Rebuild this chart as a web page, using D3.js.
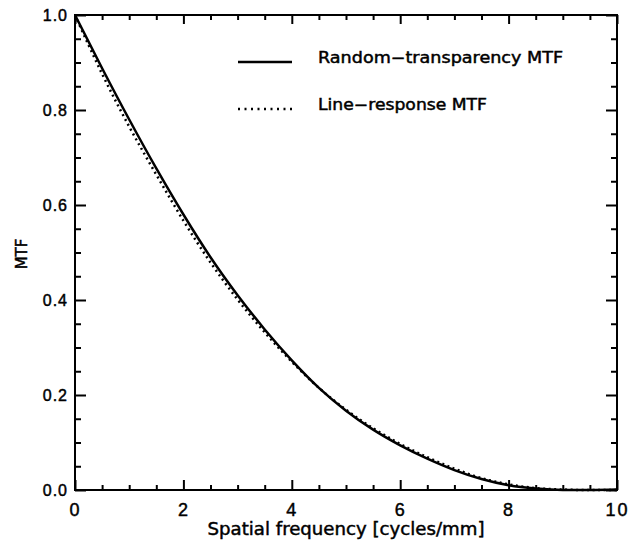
<!DOCTYPE html>
<html>
<head>
<meta charset="utf-8">
<script src="https://cdn.jsdelivr.net/npm/d3@7"></script>
<style>
  body { margin: 0; background: #fff; }
  svg { display: block; font-family: "DejaVu Sans", sans-serif; }
  text { fill: #000; stroke: #000; stroke-width: 0.45px; }
</style>
</head>
<body>
<div id="root"></div>
<script>
const WIDTH = 632;
const HEIGHT = 543;
const MARGIN = {top: 15, right: 15, bottom: 53, left: 75};

// spatial frequency samples (cycles/mm)
const freq = [0, 0.5, 1, 1.5, 2, 2.5, 3, 3.5, 4, 4.5, 5, 5.5, 6, 6.5, 7, 7.5, 8, 8.5, 9, 9.5, 10];
// MTF
const randomMTF = [1.0, 0.888, 0.780, 0.677, 0.580, 0.490, 0.410, 0.338, 0.273, 0.215, 0.167, 0.127, 0.094, 0.066, 0.042, 0.023, 0.010, 0.003, 0.0, 0.0, 0.001];
const lineMTF   = [1.0, 0.876, 0.765, 0.664, 0.567, 0.479, 0.401, 0.332, 0.270, 0.215, 0.169, 0.130, 0.097, 0.069, 0.045, 0.025, 0.012, 0.004, 0.001, 0.0, 0.0];

const xMajor = [0, 2, 4, 6, 8, 10];
const yMajor = [0.0, 0.2, 0.4, 0.6, 0.8, 1.0];
const legendLabels = ["Random\u2212transparency MTF", "Line\u2212response MTF"];

const xScale = d3.scaleLinear()
    .domain([0, 10])
    .range([MARGIN.left, WIDTH - MARGIN.right]);

const yScale = d3.scaleLinear()
    .domain([0, 1])
    .range([HEIGHT - MARGIN.bottom, MARGIN.top]);

const xMinor = d3.range(0, 10.001, 0.5).filter(v => v % 2 !== 0);
const yMinor = d3.range(0, 1.001, 0.05).map(v => +v.toFixed(2)).filter(v => Math.round(v * 100) % 20 !== 0);

const svg = d3.select("#root")
    .append("svg")
    .attr("width", WIDTH)
    .attr("height", HEIGHT);

const plotBottom = HEIGHT - MARGIN.bottom;
const plotRight = WIDTH - MARGIN.right;

// axes with inward ticks on all four sides
function addAxis(axis, transform, fontSize) {
    const g = svg.append("g")
        .attr("transform", transform)
        .call(axis);
    g.select(".domain").remove();
    g.selectAll("line").attr("stroke", "#000").attr("stroke-width", 2);
    g.selectAll("text").attr("font-size", fontSize);
    return g;
}

addAxis(d3.axisBottom(xScale).tickValues(xMajor).tickSize(-10).tickPadding(13).tickFormat(d3.format("d")),
    `translate(0,${plotBottom})`, 18)
    .selectAll("text").attr("letter-spacing", 2);
addAxis(d3.axisBottom(xScale).tickValues(xMinor).tickSize(-5).tickFormat(""), `translate(0,${plotBottom})`, 0);
addAxis(d3.axisTop(xScale).tickValues(xMajor).tickSize(-9).tickFormat(""), `translate(0,${MARGIN.top})`, 0);
addAxis(d3.axisTop(xScale).tickValues(xMinor).tickSize(-5).tickFormat(""), `translate(0,${MARGIN.top})`, 0);

addAxis(d3.axisLeft(yScale).tickValues(yMajor).tickSize(-11).tickPadding(7).tickFormat(d3.format(".1f")),
    `translate(${MARGIN.left},0)`, 16)
    .selectAll("text").attr("letter-spacing", 1);
addAxis(d3.axisLeft(yScale).tickValues(yMinor).tickSize(-6).tickFormat(""), `translate(${MARGIN.left},0)`, 0);
addAxis(d3.axisRight(yScale).tickValues(yMajor).tickSize(-11).tickFormat(""), `translate(${plotRight},0)`, 0);
addAxis(d3.axisRight(yScale).tickValues(yMinor).tickSize(-6).tickFormat(""), `translate(${plotRight},0)`, 0);

// frame
svg.append("rect")
    .attr("x", MARGIN.left)
    .attr("y", MARGIN.top)
    .attr("width", plotRight - MARGIN.left)
    .attr("height", plotBottom - MARGIN.top)
    .attr("fill", "none")
    .attr("stroke", "#000")
    .attr("stroke-width", 2);

// curves
const line = d3.line()
    .x(d => xScale(d[0]))
    .y(d => yScale(d[1]))
    .curve(d3.curveMonotoneX);

svg.append("path")
    .datum(freq.map((f, i) => [f, randomMTF[i]]))
    .attr("d", line)
    .attr("fill", "none")
    .attr("stroke", "#000")
    .attr("stroke-width", 2.5);

svg.append("path")
    .datum(freq.map((f, i) => [f, lineMTF[i]]))
    .attr("d", line)
    .attr("fill", "none")
    .attr("stroke", "#000")
    .attr("stroke-width", 2.5)
    .attr("stroke-dasharray", "2,3.5");

// legend
const legend = svg.append("g");
const legendRows = [
    {label: legendLabels[0], y: 62, dash: null, len: 245},
    {label: legendLabels[1], y: 109, dash: "2,4.5", len: 169}
];
legendRows.forEach(r => {
    legend.append("line")
        .attr("x1", 238).attr("x2", 292)
        .attr("y1", r.y).attr("y2", r.y)
        .attr("stroke", "#000")
        .attr("stroke-width", 2.5)
        .attr("stroke-dasharray", r.dash);
    legend.append("text")
        .attr("x", 318)
        .attr("y", r.y + 1)
        .attr("font-size", 15)
        .attr("textLength", r.len)
        .attr("lengthAdjust", "spacingAndGlyphs")
        .text(r.label);
});

// axis titles
svg.append("text")
    .attr("x", (MARGIN.left + plotRight) / 2)
    .attr("y", 535)
    .attr("text-anchor", "middle")
    .attr("font-size", 17)
    .attr("textLength", 277)
    .attr("lengthAdjust", "spacingAndGlyphs")
    .text("Spatial frequency [cycles/mm]");

svg.append("text")
    .attr("transform", "translate(27,254) rotate(-90)")
    .attr("text-anchor", "middle")
    .attr("font-size", 15)
    .text("MTF");
</script>
</body>
</html>
